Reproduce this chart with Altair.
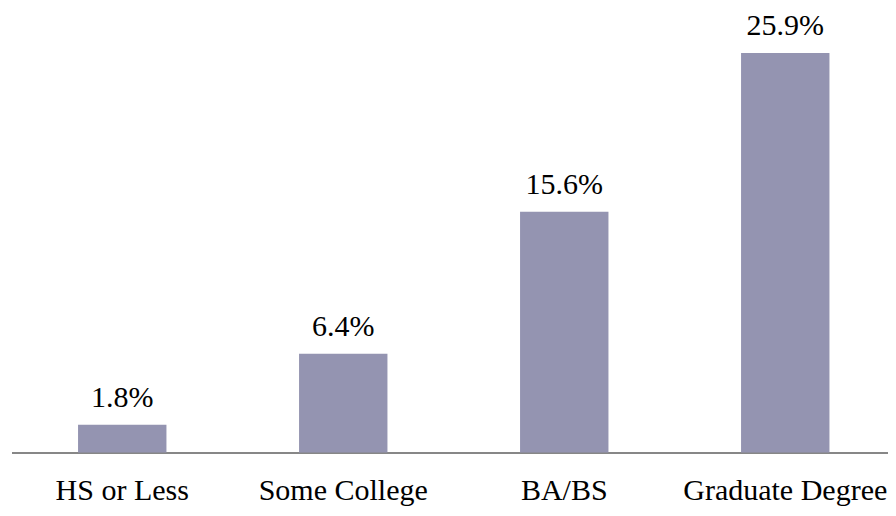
import altair as alt
import pandas as pd

categories = ["HS or Less", "Some College", "BA/BS", "Graduate Degree"]
values = [1.8, 6.4, 15.6, 25.9]
labels = ["1.8%", "6.4%", "15.6%", "25.9%"]

df = pd.DataFrame({"cat": categories, "val": values, "lab": labels})

FONT = "Times New Roman, Liberation Serif, serif"

x = alt.X("cat:N", sort=categories, title=None,
          scale=alt.Scale(paddingInner=0.6, paddingOuter=0.283, align=0.532),
          axis=alt.Axis(labelAngle=0, ticks=False, labelFont=FONT,
                        labelFontSize=30, labelColor="#000000", labelLimit=400,
                        labelBaseline="alphabetic", labelPadding=47,
                        domainColor="#878787", domainWidth=2, grid=False))
y = alt.Y("val:Q", scale=alt.Scale(domain=[0, 28.2], nice=False, zero=True), axis=None)

bars = alt.Chart(df).mark_bar(color="#9494B1").encode(x=x, y=y)
text = alt.Chart(df).mark_text(baseline="alphabetic", dy=-18, font=FONT,
                               fontSize=30, color="#000000").encode(
    x=alt.X("cat:N", sort=categories), y="val:Q", text="lab:N")

chart = (bars + text).properties(
    width=876.5, height=435,
    background="#ffffff",
    autosize=alt.AutoSizeParams(type="none"),
    padding={"left": 3.5, "top": 9.5, "right": 0, "bottom": 55.5},
).configure_view(stroke=None)

chart.save("out.html", embed_options={"renderer": "svg", "actions": False})
